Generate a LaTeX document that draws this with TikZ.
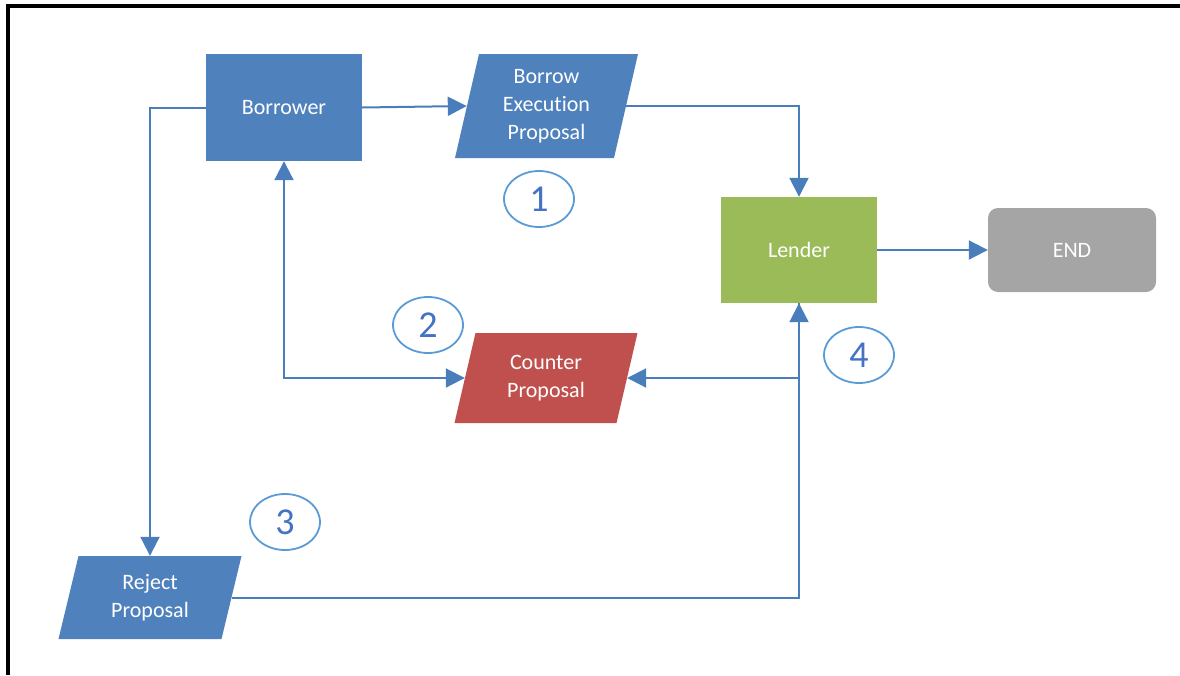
\documentclass[tikz,border=0pt]{standalone}
\usepackage{fontspec}
\setmainfont{Carlito}[Ligatures=NoCommon]
\usetikzlibrary{arrows.meta,calc,shapes.geometric}

\definecolor{boxblue}{HTML}{4F81BD}
\definecolor{boxred}{HTML}{C0504D}
\definecolor{boxgreen}{HTML}{9BBB59}
\definecolor{boxgray}{HTML}{A5A5A5}
\definecolor{linkblue}{HTML}{4A7EBB}
\definecolor{ovalblue}{HTML}{5B9BD5}
\definecolor{numblue}{HTML}{4472C4}

\tikzset{
  boxtext/.style={text=white, align=center, inner sep=0pt,
    font=\fontsize{22}{28}\selectfont},
  box/.style={boxtext, rectangle},
  link/.style={draw=linkblue, line width=2pt,
    -{Triangle[width=19pt,length=19pt]}},
  biglink/.style={draw=linkblue, line width=2pt,
    {Triangle[width=19pt,length=19pt]}-{Triangle[width=19pt,length=19pt]}},
  numoval/.style={ellipse, draw=ovalblue, line width=1.8pt,
    minimum width=70pt, minimum height=56pt, inner sep=0pt,
    text=numblue, font=\fontsize{38}{38}\selectfont},
}

% slanted data box: name, centre x, centre y, mid width, height, slant, colour, text
\newcommand\slantnode[8]{%
  \fill[#7] ({#2-#4/2+#6/2},{#3-#5/2}) -- ({#2+#4/2+#6/2},{#3-#5/2})
    -- ({#2+#4/2-#6/2},{#3+#5/2}) -- ({#2-#4/2-#6/2},{#3+#5/2}) -- cycle;
  \node[boxtext, minimum width=#4, minimum height=#5] (#1) at (#2,#3) {#8};
}

\begin{document}
\begin{tikzpicture}[x=1pt,y=-1pt]
\useasboundingbox (0,0) rectangle (1180,675);

% frame
\draw[line width=4pt, miter limit=10] (8,675) -- (8,5.5) -- (1180,5.5);

% process boxes
\node[box, fill=boxblue, minimum width=156, minimum height=107] (borrower) at (284,107.5) {Borrower};
\node[box, fill=boxgreen, minimum width=156, minimum height=106] (lender) at (799,250) {Lender};
\node[box, fill=boxgray, rounded corners=10pt, minimum width=168, minimum height=84] (end) at (1072,250) {END};

% proposals
\slantnode{bep}{546.5}{106}{159}{104}{24}{boxblue}{Borrow\\Execution\\Proposal}
\slantnode{counter}{546}{378}{162}{90}{21}{boxred}{Counter\\Proposal}
\slantnode{reject}{150}{597.5}{163}{83}{20}{boxblue}{Reject\\Proposal}

% step numbers
\node[numoval] (n1) at (539,199) {1};
\node[numoval] (n2) at (428,325) {2};
\node[numoval] (n3) at (285,522) {3};
\node[numoval] (n4) at (859,355) {4};

% connectors
\draw[link] (borrower.east) -- (bep.west);
\draw[link] (bep.east) -| (lender.north);
\draw[link] (lender.east) -- (end.west);
\draw[link] (borrower.west) -| (reject.north);
\draw[biglink] (borrower.south) |- (counter.west);
\draw[link] (lender.south) |- (counter.east);
\draw[link] (reject.east) -| (lender.south);
\end{tikzpicture}
\end{document}
